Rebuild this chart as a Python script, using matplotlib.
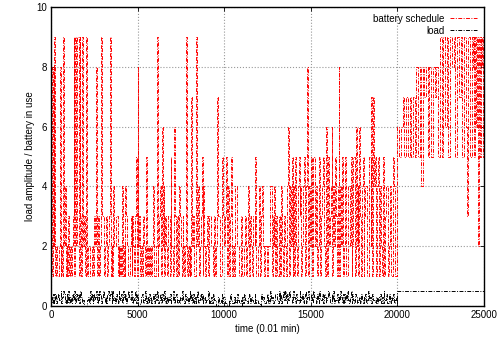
import numpy as np
import matplotlib
matplotlib.use('Agg')
import matplotlib.pyplot as plt

plt.rcParams.update({
    'font.family': ['Liberation Sans', 'DejaVu Sans'],
    'font.size': 7,
})

# battery in use, one value per 50 time steps (0.01 min), 0..25000
battery = [
    8, 1, 8, 2, 9, 1, 2, 1, 1, 2, 8, 1, 2, 1, 9, 2, 4, 1, 2, 1,
    3, 1, 2, 1, 2, 3, 9, 1, 9, 2, 9, 9, 1, 9, 3, 1, 9, 2, 3, 1,
    9, 1, 1, 2, 2, 1, 1, 2, 2, 1, 3, 2, 8, 1, 3, 1, 1, 2, 9, 3,
    3, 1, 2, 3, 3, 1, 2, 3, 9, 1, 2, 1, 4, 2, 2, 3, 3, 1, 2, 1,
    2, 1, 4, 1, 2, 1, 4, 3, 2, 1, 1, 2, 3, 1, 3, 2, 1, 3, 5, 1,
    8, 2, 3, 1, 2, 1, 3, 2, 2, 1, 5, 1, 2, 1, 2, 1, 1, 2, 4, 1,
    1, 2, 9, 1, 2, 3, 4, 1, 6, 2, 4, 1, 3, 2, 1, 3, 3, 1, 5, 2,
    2, 1, 6, 3, 1, 2, 3, 1, 4, 3, 2, 1, 3, 2, 1, 2, 9, 1, 2, 1,
    2, 1, 7, 2, 3, 1, 1, 3, 9, 2, 4, 1, 2, 3, 5, 1, 4, 2, 1, 2,
    3, 1, 1, 3, 3, 2, 2, 1, 3, 1, 1, 2, 7, 3, 3, 1, 1, 2, 5, 3,
    2, 3, 5, 1, 4, 2, 1, 3, 5, 1, 2, 1, 1, 4, 4, 2, 2, 1, 1, 3,
    2, 1, 1, 2, 3, 1, 2, 3, 4, 1, 3, 2, 1, 3, 3, 2, 5, 1, 1, 2,
    4, 1, 2, 3, 4, 2, 1, 2, 2, 1, 1, 2, 2, 4, 4, 1, 3, 2, 4, 1,
    3, 1, 1, 3, 2, 1, 4, 2, 1, 3, 2, 1, 3, 4, 6, 1, 4, 2, 5, 1,
    4, 1, 5, 2, 1, 4, 5, 3, 4, 1, 2, 4, 5, 1, 3, 4, 8, 1, 4, 2,
    5, 1, 1, 5, 5, 2, 4, 1, 2, 3, 5, 1, 3, 4, 5, 2, 1, 3, 6, 1,
    5, 2, 3, 4, 6, 1, 4, 2, 5, 3, 1, 4, 8, 1, 4, 2, 5, 1, 2, 4,
    5, 1, 1, 4, 4, 2, 5, 1, 2, 5, 5, 1, 6, 2, 4, 1, 6, 3, 1, 4,
    5, 1, 3, 4, 4, 1, 1, 5, 5, 2, 7, 1, 7, 4, 5, 1, 2, 4, 5, 1,
    4, 2, 1, 5, 5, 1, 3, 4, 4, 1, 2, 4, 4, 1, 1, 5, 4, 1, 1, 1,
    6, 6, 5, 5, 6, 6, 7, 7, 5, 5, 7, 7, 5, 5, 7, 7, 5, 5, 7, 7,
    5, 5, 8, 8, 5, 5, 8, 4, 4, 8, 8, 7, 7, 8, 8, 5, 5, 8, 8, 5,
    5, 8, 8, 7, 7, 8, 8, 5, 5, 9, 9, 5, 5, 9, 9, 6, 6, 9, 9, 5,
    5, 9, 9, 8, 8, 9, 9, 5, 5, 9, 9, 7, 7, 9, 9, 5, 5, 9, 9, 6,
    3, 3, 9, 9, 5, 5, 9, 8, 9, 5, 9, 6, 9, 2, 9, 5, 9, 8, 9, 5,
]

# load amplitude, one value per 50 time steps up to 20000, then constant
load = [
    .3, .1, .4, .1, .2, .4, .1, .3, .4, .2, .2, .5, .1, .3, .5, .4, .1, .2, .4, .1,
    .5, .1, .3, .1, .4, .2, .3, .5, .1, .4, .2, .4, .1, .3, .5, .3, .1, .2, 0, 0,
    0, .1, .2, .3, .1, .5, .2, .4, .1, .4, .2, .3, .5, .1, .4, .2, .5, .4, .1, .3,
    .5, .3, .1, .3, .1, .4, .5, .2, .4, .5, .1, .5, .2, .3, .1, .4, .2, .1, .5, .3,
    .2, .4, .1, .5, .3, .2, .4, .1, .3, .5, .3, .2, .5, .4, .1, .3, .2, .5, .1, .4,
    .1, 0, 0, .1, .3, .4, .1, .2, .4, .5, .1, .3, .1, .4, .2, .3, .1, .2, .4, .1,
    .4, .2, .5, .3, .1, .2, .4, .1, .4, .2, .3, .5, .1, .3, .1, .3, .2, .4, .1, .2,
    .2, .5, .1, .3, .4, .2, .1, .2, .1, .3, .2, .5, .3, .2, .1, .4, .2, .3, .1, .3,
    .5, .2, .4, .1, .4, .1, .3, .1, .3, .5, .1, .2, .4, .2, .4, .1, .2, .3, .1, .2,
    .2, .5, .1, .2, .1, .3, .1, .4, .2, .2, .1, 0, 0, .3, .1, .1, .2, .4, .1, .3,
    .3, .1, .1, 0, 0, .2, .1, .4, .2, .1, .1, .3, .1, .2, .1, .4, .2, .1, .1, .2,
    0, .3, .1, .4, .2, .2, .1, .1, .3, .4, .1, .3, .2, .1, .1, .4, .1, .2, .2, .1,
    .1, 0, 0, .4, .2, .3, .1, .1, .2, .4, .1, .2, .1, .5, .2, .3, .1, .1, .2, .4,
    .4, .2, .1, .5, .2, .4, .1, .3, .5, .2, .5, .2, .1, .4, .2, .5, .3, .3, .1, .4,
    .5, .3, .1, .4, .2, .2, .1, .5, .3, .2, .4, .1, .3, .4, .5, .1, .3, .5, .2, .2,
    .4, .2, .1, .5, .3, .3, .1, .4, .2, .1, .5, .2, .2, .4, .1, .4, .3, .1, .2, .3,
    .5, .3, .1, .1, .4, .2, .5, .1, .2, .2, .4, .1, .3, .2, .5, .3, .1, .4, .1, .1,
    .4, .2, .5, .2, .1, .3, .5, .1, .4, .2, .1, .4, .3, .1, .2, .2, .3, .1, .4, .2,
    .1, .3, .2, .4, .1, .2, .5, .2, .3, .1, .1, .4, .2, .2, .1, .3, .2, .1, .3, .2,
    .4, .1, .3, .1, .5, .2, .2, .4, .1, .1, .4, .2, .1, .3, .2, .4, .1, .2, .3, .1,
]
load_tail = 0.5
STEP = 50
T_END = 25000

t_bat = np.arange(len(battery) + 1) * STEP
v_bat = battery + [battery[-1]]
t_load = np.append(np.arange(len(load) + 1) * STEP, T_END)
v_load = load + [load_tail, load_tail]

fig = plt.figure(figsize=(4.99, 3.41), dpi=100)
ax = fig.add_axes([51 / 499, 35 / 341, 433 / 499, 299 / 341])

ax.step(t_bat, v_bat, where='post', color='#ff0000', lw=0.7,
        dashes=(4, 1.5, 1, 1.5), label='battery schedule')
ax.step(t_load, v_load, where='post', color='black', lw=0.7,
        dashes=(4, 1.5, 1, 1.5), label='load')

ax.set_xlim(0, T_END)
ax.set_ylim(0, 10)
ax.set_xticks([0, 5000, 10000, 15000, 20000, 25000])
ax.set_yticks([0, 2, 4, 6, 8, 10])
ax.tick_params(direction='in', top=True, right=True, length=3, width=0.6, pad=3)
ax.grid(True, color='#999999', linestyle=':', linewidth=0.8)
for s in ax.spines.values():
    s.set_linewidth(1.0)

ax.set_xlabel('time (0.01 min)', labelpad=3)
ax.set_ylabel('load amplitude / battery in use', labelpad=1)

leg = ax.legend(loc='upper right', markerfirst=False, frameon=False,
                handlelength=2.8, handletextpad=0.6, labelspacing=0.2,
                borderaxespad=0.3)
for txt in leg.get_texts():
    txt.set_ha('right')

fig.savefig('out.png', dpi=100)
